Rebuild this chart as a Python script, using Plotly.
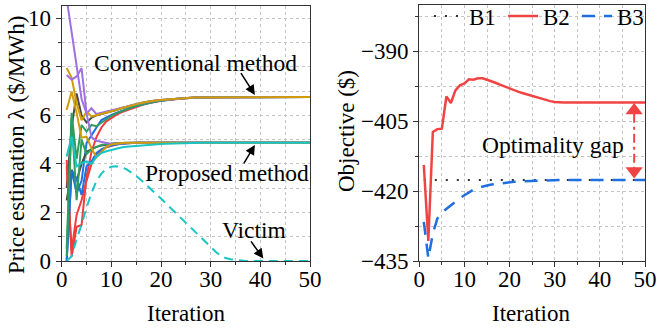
import plotly.graph_objects as go

iters = list(range(1, 51))

# ---- Left panel: price estimation (conventional method, converge ~6.75) ----
conv_gray = [3.0, 5.5, 6.9, 6.0, 5.7, 5.9, 6.0, 6.05, 6.1, 6.15,
             6.22, 6.29, 6.35, 6.41, 6.46, 6.51, 6.55, 6.59, 6.61, 6.63,
             6.65, 6.67, 6.69, 6.70, 6.71, 6.72, 6.73, 6.73, 6.74, 6.74,
             6.74, 6.75, 6.75, 6.75, 6.75, 6.75, 6.75, 6.75, 6.75, 6.75,
             6.75, 6.75, 6.75, 6.75, 6.75, 6.75, 6.75, 6.75, 6.75, 6.75]
conv_red = [4.16, 0.18, 1.41, 1.48, 3.47, 4.5, 5.1, 5.5, 5.75, 5.9,
            6.02, 6.12, 6.2, 6.28, 6.35, 6.41, 6.47, 6.52, 6.56, 6.6,
            6.63, 6.65, 6.67, 6.69, 6.70, 6.72, 6.73, 6.73, 6.74, 6.74,
            6.74, 6.75, 6.75, 6.75, 6.75, 6.75, 6.75, 6.75, 6.75, 6.75,
            6.75, 6.75, 6.75, 6.75, 6.75, 6.75, 6.75, 6.75, 6.75, 6.75]
conv_blue = [0.0, 3.75, 2.8, 3.3, 4.85, 5.2, 5.5, 5.8, 5.92, 6.02,
             6.1, 6.18, 6.25, 6.32, 6.38, 6.44, 6.49, 6.53, 6.57, 6.6,
             6.63, 6.65, 6.67, 6.69, 6.70, 6.72, 6.73, 6.73, 6.74, 6.74,
             6.74, 6.75, 6.75, 6.75, 6.75, 6.75, 6.75, 6.75, 6.75, 6.75,
             6.75, 6.75, 6.75, 6.75, 6.75, 6.75, 6.75, 6.75, 6.75, 6.75]
conv_green = [0.5, 6.1, 4.2, 5.6, 5.33, 5.6, 5.55, 5.7, 5.85, 5.98,
              6.08, 6.17, 6.25, 6.32, 6.38, 6.44, 6.5, 6.54, 6.58, 6.61,
              6.64, 6.66, 6.68, 6.70, 6.71, 6.72, 6.73, 6.73, 6.74, 6.74,
              6.74, 6.75, 6.75, 6.75, 6.75, 6.75, 6.75, 6.75, 6.75, 6.75,
              6.75, 6.75, 6.75, 6.75, 6.75, 6.75, 6.75, 6.75, 6.75, 6.75]
conv_purple = [10.8, 9.4, 8.0, 6.67, 6.08, 6.29, 6.05, 6.1, 6.12, 6.17,
               6.22, 6.29, 6.35, 6.41, 6.46, 6.51, 6.55, 6.59, 6.61, 6.63,
               6.65, 6.67, 6.69, 6.70, 6.71, 6.72, 6.73, 6.73, 6.74, 6.74,
               6.74, 6.75, 6.75, 6.75, 6.75, 6.75, 6.75, 6.75, 6.75, 6.75,
               6.75, 6.75, 6.75, 6.75, 6.75, 6.75, 6.75, 6.75, 6.75, 6.75]
conv_gold = [7.95, 7.55, 6.5, 5.8, 6.15, 5.95, 6.0, 6.05, 6.1, 6.16,
             6.22, 6.29, 6.35, 6.41, 6.46, 6.51, 6.55, 6.59, 6.61, 6.63,
             6.65, 6.67, 6.69, 6.70, 6.71, 6.72, 6.73, 6.73, 6.74, 6.74,
             6.74, 6.75, 6.75, 6.75, 6.75, 6.75, 6.75, 6.75, 6.75, 6.75,
             6.75, 6.75, 6.75, 6.75, 6.75, 6.75, 6.75, 6.75, 6.75, 6.75]

# ---- proposed method (converge ~4.87) ----
prop_gray = [2.5, 3.75, 3.3, 4.0, 4.5, 4.6, 4.7, 4.75, 4.8, 4.83,
             4.85, 4.86, 4.87, 4.87, 4.87, 4.87, 4.87, 4.87, 4.87, 4.87,
             4.87, 4.87, 4.87, 4.87, 4.87, 4.87, 4.87, 4.87, 4.87, 4.87,
             4.87, 4.87, 4.87, 4.87, 4.87, 4.87, 4.87, 4.87, 4.87, 4.87,
             4.87, 4.87, 4.87, 4.87, 4.87, 4.87, 4.87, 4.87, 4.87, 4.87]
prop_red = [3.9, 0.45, 1.9, 2.5, 3.3, 4.0, 4.35, 4.55, 4.68, 4.75,
            4.8, 4.83, 4.85, 4.86, 4.87, 4.87, 4.87, 4.87, 4.87, 4.87,
            4.87, 4.87, 4.87, 4.87, 4.87, 4.87, 4.87, 4.87, 4.87, 4.87,
            4.87, 4.87, 4.87, 4.87, 4.87, 4.87, 4.87, 4.87, 4.87, 4.87,
            4.87, 4.87, 4.87, 4.87, 4.87, 4.87, 4.87, 4.87, 4.87, 4.87]
prop_blue = [0.0, 3.7, 3.4, 2.72, 3.9, 4.1, 4.45, 4.6, 4.7, 4.76,
             4.8, 4.83, 4.85, 4.86, 4.87, 4.87, 4.87, 4.87, 4.87, 4.87,
             4.87, 4.87, 4.87, 4.87, 4.87, 4.87, 4.87, 4.87, 4.87, 4.87,
             4.87, 4.87, 4.87, 4.87, 4.87, 4.87, 4.87, 4.87, 4.87, 4.87,
             4.87, 4.87, 4.87, 4.87, 4.87, 4.87, 4.87, 4.87, 4.87, 4.87]
prop_green = [0.2, 5.9, 2.5, 5.0, 4.4, 4.6, 4.7, 4.78, 4.82, 4.84,
              4.86, 4.87, 4.87, 4.87, 4.87, 4.87, 4.87, 4.87, 4.87, 4.87,
              4.87, 4.87, 4.87, 4.87, 4.87, 4.87, 4.87, 4.87, 4.87, 4.87,
              4.87, 4.87, 4.87, 4.87, 4.87, 4.87, 4.87, 4.87, 4.87, 4.87,
              4.87, 4.87, 4.87, 4.87, 4.87, 4.87, 4.87, 4.87, 4.87, 4.87]
prop_purple = [7.66, 7.46, 7.6, 7.94, 6.08, 5.1, 4.95, 4.9, 4.85, 4.82,
               4.84, 4.86, 4.87, 4.87, 4.87, 4.87, 4.87, 4.87, 4.87, 4.87,
               4.87, 4.87, 4.87, 4.87, 4.87, 4.87, 4.87, 4.87, 4.87, 4.87,
               4.87, 4.87, 4.87, 4.87, 4.87, 4.87, 4.87, 4.87, 4.87, 4.87,
               4.87, 4.87, 4.87, 4.87, 4.87, 4.87, 4.87, 4.87, 4.87, 4.87]
prop_gold = [6.22, 6.98, 6.1, 5.08, 5.12, 4.64, 4.27, 4.5, 4.7, 4.8,
             4.84, 4.86, 4.87, 4.87, 4.87, 4.87, 4.87, 4.87, 4.87, 4.87,
             4.87, 4.87, 4.87, 4.87, 4.87, 4.87, 4.87, 4.87, 4.87, 4.87,
             4.87, 4.87, 4.87, 4.87, 4.87, 4.87, 4.87, 4.87, 4.87, 4.87,
             4.87, 4.87, 4.87, 4.87, 4.87, 4.87, 4.87, 4.87, 4.87, 4.87]
prop_cyan = [4.3, 5.12, 3.9, 4.03, 4.1, 4.0, 4.3, 4.45, 4.52, 4.58,
             4.63, 4.67, 4.7, 4.72, 4.74, 4.76, 4.78, 4.8, 4.81, 4.82,
             4.83, 4.84, 4.85, 4.85, 4.86, 4.86, 4.86, 4.87, 4.87, 4.87,
             4.87, 4.87, 4.87, 4.87, 4.87, 4.87, 4.87, 4.87, 4.87, 4.87,
             4.87, 4.87, 4.87, 4.87, 4.87, 4.87, 4.87, 4.87, 4.87, 4.87]
victim = [0.0, 0.2, 0.9, 1.5, 2.2, 2.8, 3.3, 3.6, 3.8, 3.88,
          3.9, 3.87, 3.78, 3.65, 3.5, 3.33, 3.15, 2.97, 2.77, 2.57,
          2.37, 2.17, 1.96, 1.75, 1.55, 1.34, 1.14, 0.94, 0.75, 0.56,
          0.38, 0.22, 0.12, 0.07, 0.04, 0.02, 0.0, 0.0, 0.0, 0.0,
          0.0, 0.0, 0.0, 0.0, 0.0, 0.0, 0.0, 0.0, 0.0, 0.0]

# ---- Right panel: objective ----
b1 = [-417.6, -417.6, -417.6, -417.6, -417.6, -417.6, -417.6, -417.6, -417.6, -417.6,
      -417.6, -417.6, -417.6, -417.6, -417.6, -417.6, -417.6, -417.6, -417.6, -417.6,
      -417.6, -417.6, -417.6, -417.6, -417.6, -417.6, -417.6, -417.6, -417.6, -417.6,
      -417.6, -417.6, -417.6, -417.6, -417.6, -417.6, -417.6, -417.6, -417.6, -417.6,
      -417.6, -417.6, -417.6, -417.6, -417.6, -417.6, -417.6, -417.6, -417.6, -417.6]
b2 = [-414.4, -430.7, -407.3, -406.7, -406.6, -399.7, -401.1, -398.4, -397.3, -396.9,
      -396.0, -396.1, -395.8, -395.8, -396.1, -396.4, -396.8, -397.2, -397.6, -398.0,
      -398.4, -398.7, -399.0, -399.3, -399.6, -399.9, -400.2, -400.5, -400.7, -400.9,
      -401.0, -401.0, -401.0, -401.0, -401.0, -401.0, -401.0, -401.0, -401.0, -401.0,
      -401.0, -401.0, -401.0, -401.0, -401.0, -401.0, -401.0, -401.0, -401.0, -401.0]
b3 = [-426.6, -434.4, -429.1, -425.9, -424.6, -423.8, -422.9, -422.1, -421.5, -420.9,
      -420.3, -419.7, -419.3, -419.0, -418.8, -418.6, -418.45, -418.3, -418.2, -418.1,
      -418.0, -417.95, -417.9, -417.85, -417.8, -417.75, -417.72, -417.7, -417.68, -417.65,
      -417.6, -417.6, -417.6, -417.6, -417.6, -417.6, -417.6, -417.6, -417.6, -417.6,
      -417.6, -417.6, -417.6, -417.6, -417.6, -417.6, -417.6, -417.6, -417.6, -417.6]

gap_x = 47.6

FONT = "'Liberation Serif', 'Times New Roman', serif"
C = dict(gray="#4a4a4a", red="#f03c3c", blue="#1f6fe0", green="#2e9e5e",
         purple="#a070e0", gold="#d09c08", cyan="#18c4c4")

fig = go.Figure()
for ys, col in [(conv_gray, C["gray"]), (conv_red, C["red"]),
                (conv_blue, C["blue"]), (conv_green, C["green"]),
                (conv_purple, C["purple"]), (conv_gold, C["gold"]),
                (prop_gray, C["gray"]), (prop_red, C["red"]),
                (prop_blue, C["blue"]), (prop_green, C["green"]),
                (prop_purple, C["purple"]), (prop_gold, C["gold"]),
                (prop_cyan, C["cyan"])]:
    fig.add_trace(go.Scatter(x=iters, y=ys, mode="lines", line=dict(color=col, width=2),
                             showlegend=False, xaxis="x", yaxis="y"))
fig.add_trace(go.Scatter(x=iters, y=victim, mode="lines",
                         line=dict(color=C["cyan"], width=2, dash="9px,6px"),
                         showlegend=False, xaxis="x", yaxis="y"))

fig.add_trace(go.Scatter(x=iters, y=b1, mode="lines", name="B1",
                         line=dict(color="#333333", width=2, dash="2px,9px"),
                         xaxis="x2", yaxis="y2"))
fig.add_trace(go.Scatter(x=iters, y=b2, mode="lines", name="B2",
                         line=dict(color="#f04444", width=2.5), xaxis="x2", yaxis="y2"))
fig.add_trace(go.Scatter(x=iters, y=b3, mode="lines", name="B3",
                         line=dict(color="#1f6fe0", width=2.5, dash="13px,9px"),
                         xaxis="x2", yaxis="y2"))

# optimality gap marker
top = b2[-1]
bot = b3[-1]
fig.add_trace(go.Scatter(x=[gap_x, gap_x], y=[top - 2.4, bot + 2.4], mode="lines",
                         line=dict(color="#f04444", width=2, dash="9px,4px,3px,4px"),
                         showlegend=False, xaxis="x2", yaxis="y2"))
fig.add_trace(go.Scatter(x=[gap_x, gap_x], y=[top - 1.7, bot + 1.9], mode="markers",
                         marker=dict(symbol=["triangle-up", "triangle-down"], size=15,
                                     color="#f04444"),
                         showlegend=False, xaxis="x2", yaxis="y2"))

grid = dict(showgrid=True, gridcolor="#c4c4c4", gridwidth=1, griddash="dot")
axcommon = dict(showline=True, linecolor="#333333", linewidth=1.3, mirror=True,
                ticks="outside", ticklen=5, tickcolor="#333333", zeroline=False,
                automargin=False,
                tickfont=dict(family=FONT, size=23, color="black"), **grid)

fig.update_layout(
    width=657, height=331, margin=dict(l=0, r=0, t=0, b=0, autoexpand=False),
    paper_bgcolor="white", plot_bgcolor="white",
    font=dict(family=FONT, size=23, color="black"),
    xaxis=dict(domain=[61.7 / 657, 310 / 657], range=[0, 50], tickvals=[0, 10, 20, 30, 40, 50],
               minor=dict(dtick=5, tick0=0, ticks="outside", ticklen=3, tickcolor="#333", **grid),
               anchor="y", ticklabelstandoff=-8, **axcommon),
    yaxis=dict(domain=[70 / 331, 1 - 6 / 331], range=[0, 10.5], tickvals=[0, 2, 4, 6, 8, 10],
               minor=dict(dtick=1, tick0=0, ticks="outside", ticklen=3, tickcolor="#333", **grid),
               anchor="x", **axcommon),
    xaxis2=dict(domain=[419.3 / 657, 645 / 657], range=[0, 50], tickvals=[0, 10, 20, 30, 40, 50],
                minor=dict(dtick=5, tick0=0, ticks="outside", ticklen=3, tickcolor="#333", **grid),
                anchor="y2", ticklabelstandoff=-8, **axcommon),
    yaxis2=dict(domain=[70 / 331, 1 - 4.7 / 331], range=[-435, -380],
                tickvals=[-435, -420, -405, -390],
                minor=dict(dtick=7.5, tick0=-435, ticks="outside", ticklen=3, tickcolor="#333", **grid),
                anchor="x2", **axcommon),
    legend=dict(orientation="h", x=0.653, xanchor="left", y=1 - 16 / 331, yanchor="middle",
                bgcolor="rgba(0,0,0,0)", font=dict(family=FONT, size=23),
                entrywidth=29, entrywidthmode="pixels", tracegroupgap=0),
)

ann = []
def txt(t, x, y, xref="x", yref="y", size=23, angle=0):
    ann.append(dict(text=t, x=x, y=y, xref=xref, yref=yref, showarrow=False,
                    font=dict(family=FONT, size=size, color="black"), textangle=angle,
                    xanchor="center", yanchor="middle"))

def arrow(x, y, ax, ay, xref="x", yref="y"):
    ann.append(dict(text="", x=x, y=y, ax=ax, ay=ay, xref=xref, yref=yref,
                    axref=xref, ayref=yref, showarrow=True, arrowhead=2, arrowsize=1.3,
                    arrowwidth=1.5, arrowcolor="black"))

txt("Conventional method", 27.0, 8.17, size=23.5)
arrow(38.9, 6.84, 35.9, 7.8)
txt("Proposed method", 33.2, 3.61, size=23.5)
arrow(38.9, 4.78, 36.5, 3.96)
txt("Victim", 38.7, 1.28, size=23.5)
arrow(40.6, 0.1, 37.9, 0.87)
txt("Optimality gap", 29.6, -410.2, xref="x2", yref="y2", size=23.5)

# axis titles
txt("Iteration", 185.8 / 657, 1 - 313 / 331, xref="paper", yref="paper")
txt("Iteration", 531 / 657, 1 - 313 / 331, xref="paper", yref="paper")
txt("Price estimation λ ($/MWh)", 16 / 657, 1 - 145 / 331, xref="paper", yref="paper", angle=-90)
txt("Objective ($)", 347 / 657, 1 - 131 / 331, xref="paper", yref="paper", angle=-90)

fig.update_layout(annotations=ann)
fig.write_html("out.html")
